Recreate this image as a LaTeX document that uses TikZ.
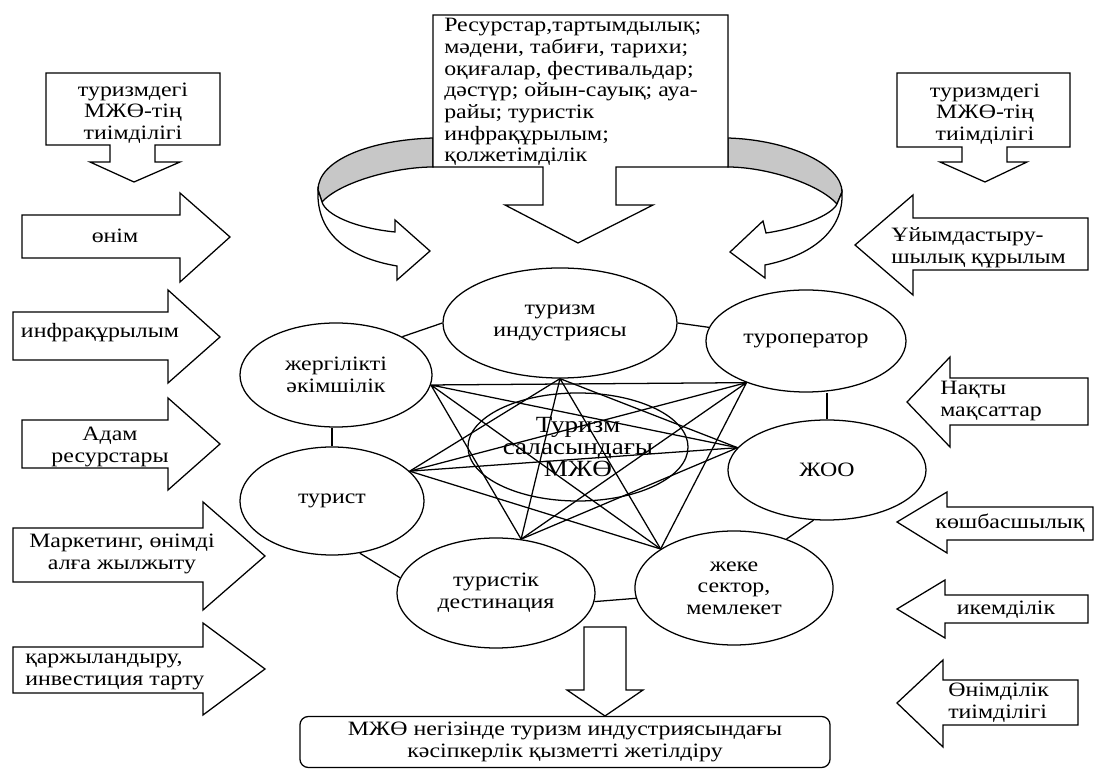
\documentclass[tikz,border=0pt]{standalone}
\usepackage{fontspec}
\setmainfont{Liberation Serif}[FakeStretch=1.17]
\usetikzlibrary{shapes.geometric}

\begin{document}
\begin{tikzpicture}[x=0.025cm,y=-0.025cm]

    \tikzset{ellstyle/.style={draw,shape=ellipse,inner sep=0pt,align=center,line width=0.9pt,
                              font=\fontsize{14.5}{15.4}\selectfont},
             txtstyle/.style={align=center,inner sep=0pt,font=\fontsize{14.5}{15.4}\selectfont},
             blockstyle/.style={draw,fill=white,line width=0.9pt,line join=miter}}
    \useasboundingbox (0,0) rectangle (1094,773);

    % top boxes
    \draw[blockstyle] (46,73) -- (220,73) -- (220,145) -- (155,145) -- (155,162) -- (180,162) -- (134,182)
        -- (90,162) -- (110,162) -- (110,145) -- (46,145) -- cycle;
    \draw[blockstyle] (897,73) -- (1070,73) -- (1070,147) -- (1007,147) -- (1007,162) -- (1027,162) -- (985,182)
        -- (940,162) -- (962,162) -- (962,147) -- (897,147) -- cycle;

    % curved arrows
    \draw[blockstyle,fill=black!22] (433,138) .. controls (370,140) and (318,160) .. (318,190) -- (322,202)
        .. controls (340,182) and (395,167) .. (433,167) -- cycle;
    \draw[blockstyle] (318,190) .. controls (316,235) and (350,258) .. (397,266) -- (397,280) -- (430,251)
        -- (395,220) -- (395,232) .. controls (355,228) and (326,215) .. (322,202) -- cycle;
    \draw[blockstyle,fill=black!22] (728,138) .. controls (790,140) and (842,165) .. (842,192) -- (837,204)
        .. controls (818,183) and (765,167) .. (728,167) -- cycle;
    \draw[blockstyle] (842,192) .. controls (844,232) and (810,256) .. (765,265) -- (765,278) -- (730,252)
        -- (763,221) -- (766,233) .. controls (800,228) and (832,215) .. (837,204) -- cycle;

    \draw[blockstyle] (433,15) -- (728,15) -- (728,167) -- (616,167) -- (616,205) -- (653,205) -- (578,243)
        -- (505,205) -- (543,205) -- (543,167) -- (433,167) -- cycle;

    % left arrows
    \draw[blockstyle] (22,215) -- (180,215) -- (180,193) -- (230,237) -- (180,282) -- (180,258) -- (22,258) -- cycle;
    \draw[blockstyle] (13,312) -- (168,312) -- (168,290) -- (220,337) -- (168,383) -- (168,360) -- (13,360) -- cycle;
    \draw[blockstyle] (22,420) -- (168,420) -- (168,398) -- (220,444) -- (168,490) -- (168,468) -- (22,468) -- cycle;
    \draw[blockstyle] (13,528) -- (203,528) -- (203,502) -- (265,556) -- (203,610) -- (203,582) -- (13,582) -- cycle;
    \draw[blockstyle] (13,647) -- (203,647) -- (203,623) -- (265,669) -- (203,715) -- (203,693) -- (13,693) -- cycle;

    % right arrows
    \draw[blockstyle] (1088,218) -- (913,218) -- (913,195) -- (855,245) -- (913,295) -- (913,270) -- (1088,270) -- cycle;
    \draw[blockstyle] (1088,378) -- (950,378) -- (950,357) -- (907,402) -- (950,447) -- (950,425) -- (1088,425) -- cycle;
    \draw[blockstyle] (1093,507) -- (947,507) -- (947,492) -- (897,522) -- (947,553) -- (947,540) -- (1093,540) -- cycle;
    \draw[blockstyle] (1088,595) -- (945,595) -- (945,580) -- (897,609) -- (945,638) -- (945,623) -- (1088,623) -- cycle;
    \draw[blockstyle] (1078,680) -- (943,680) -- (943,660) -- (897,703) -- (943,747) -- (943,725) -- (1078,725) -- cycle;

    % bottom arrow
    \draw[blockstyle] (584,627) -- (626,627) -- (626,690) -- (643,690) -- (605,716) -- (567,690) -- (584,690) -- cycle;

    \node[txtstyle] (eff1) at (133,113) {туризмдегі\\МЖӨ-тің\\тиімділігі};
    \node[txtstyle] (eff2) at (985,114) {туризмдегі\\МЖӨ-тің\\тиімділігі};
    \node[txtstyle,align=left,anchor=west] (res) at (444,92) {Ресурстар,тартымдылық;\\мәдени, табиғи, тарихи;\\оқиғалар, фестивальдар;\\дәстүр; ойын-сауық; ауа-\\райы; туристік\\инфрақұрылым;\\қолжетімділік};

    \node[txtstyle] (onim) at (115,236) {өнім};
    \node[txtstyle] (infra) at (100,333) {инфрақұрылым};
    \node[txtstyle] (adam) at (110,447) {Адам\\ресурстары};
    \node[txtstyle] (mark) at (122,554) {Маркетинг, өнімді\\алға жылжыту};
    \node[txtstyle,align=left,anchor=west] (karzh) at (25,672) {қаржыландыру,\\инвестиция тарту};

    \node[txtstyle,align=left,anchor=west] (uiym) at (891,248) {Ұйымдастыру-\\шылық құрылым};
    \node[txtstyle,align=left,anchor=west] (nakty) at (940,401) {Нақты\\мақсаттар};
    \node[txtstyle] (kosh) at (1010,523) {көшбасшылық};
    \node[txtstyle] (ikem) at (1006,610) {икемділік};
    \node[txtstyle,align=left,anchor=west] (onimd) at (948,703) {Өнімділік\\тиімділігі};

    % ellipses
    \node[ellstyle,minimum width=5.85cm,minimum height=2.75cm] (ind) at (560,323) {туризм\\индустриясы};
    \node[ellstyle,minimum width=4.8cm,minimum height=2.6cm] (zhak) at (336,375) {жергілікті\\әкімшілік};
    \node[ellstyle,minimum width=4.6cm,minimum height=2.7cm] (turist) at (332,501) {турист};
    \node[ellstyle,minimum width=4.95cm,minimum height=2.75cm] (dest) at (496,593) {туристік\\дестинация};
    \node[ellstyle,minimum width=5.0cm,minimum height=2.55cm] (turop) at (806,341) {туроператор};
    \node[ellstyle,minimum width=4.95cm,minimum height=2.5cm] (zhoo) at (827,470) {ЖОО};
    \node[ellstyle,minimum width=4.95cm,minimum height=2.85cm] (zheke) at (734,588) {жеке\\сектор,\\мемлекет};
    \node[ellstyle,minimum width=5.5cm,minimum height=2.7cm,font=\fontsize{16.5}{15.6}\selectfont] (mzho) at (578,447) {Туризм\\саласындағы\\МЖӨ};

    \node[draw,rounded corners=6pt,line width=0.9pt,minimum width=13.25cm,minimum height=1.275cm,
          txtstyle] (goal) at (565,742) {МЖӨ негізінде туризм индустриясындағы\\кәсіпкерлік қызметті жетілдіру};

    \coordinate (hA) at (zhak.-6);
    \coordinate (hB) at (ind.south);
    \coordinate (hC) at (turop.215);
    \coordinate (hD) at (zhoo.166);
    \coordinate (hE) at (zheke.152);
    \coordinate (hF) at (dest.65);
    \coordinate (hG) at (turist.21);

    \begin{scope}[every path/.style={draw,line width=0.9pt}]
        % ring
        \draw (zhak.30) -- (ind.west);
        \draw (ind.east) -- (turop.172);
        \draw (zhoo.north) -- (zhoo.north |- turop.south);
        \draw (zhoo.-105) -- (zheke.43);
        \draw (dest.-5) -- (zheke.186);
        \draw (dest.171) -- (turist.-62);
        \draw (turist.north) -- (turist.north |- zhak.south);

        % star
        \draw (hA) -- (hC) (hA) -- (hD) (hA) -- (hE) (hA) -- (hF);
        \draw (hB) -- (hD) (hB) -- (hE) (hB) -- (hF) (hB) -- (hG);
        \draw (hC) -- (hE) (hC) -- (hF) (hC) -- (hG);
        \draw (hD) -- (hF) (hD) -- (hG);
        \draw (hE) -- (hG);
    \end{scope}

\end{tikzpicture}
\end{document}
